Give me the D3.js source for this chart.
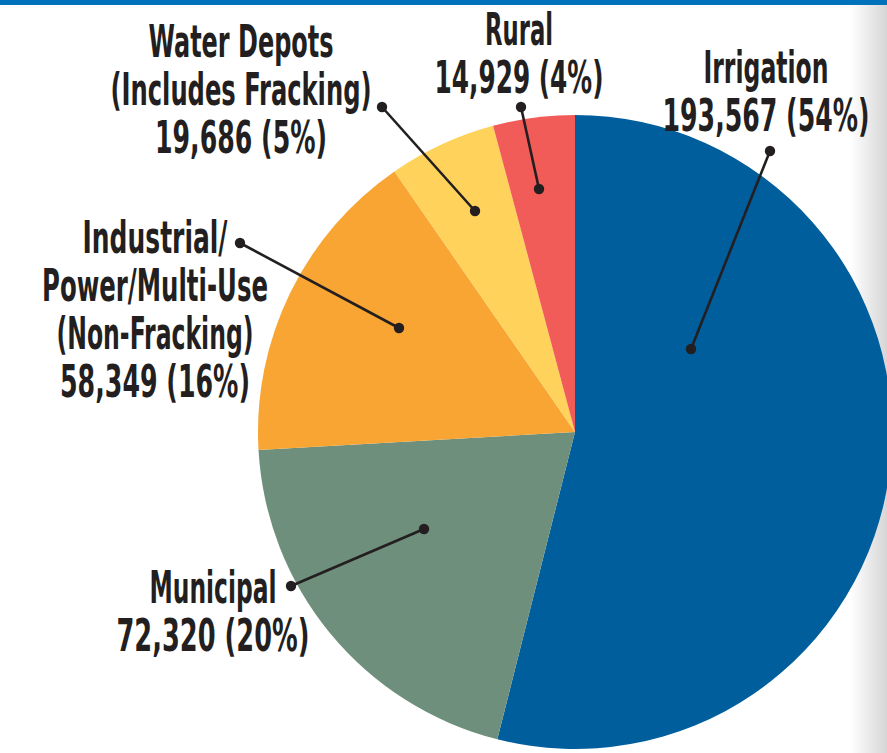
<!DOCTYPE html>
<html>
<head>
<meta charset="utf-8">
<script src="https://cdn.jsdelivr.net/npm/d3@7"></script>
<style>
  html, body { margin: 0; padding: 0; background: #fff; }
  svg { display: block; }
</style>
</head>
<body>
<svg id="chart" width="887" height="753"></svg>
<script>
// ---- data ----
const categories = ["Irrigation", "Municipal", "Industrial/\nPower/Multi-Use\n(Non-Fracking)", "Water Depots\n(Includes Fracking)", "Rural"];
const values = [193567, 72320, 58349, 19686, 14929];
const colors = ["#015e9d", "#6e8f7b", "#f8a533", "#fed25b", "#f15b58"];

// ---- layout (label placement, pixels) ----
const labelCenterX = [766, 213, 155, 241, 519];
const labelFirstBaseline = [83, 603, 253, 57, 45];
const labelLineWidths = [[125, 207], [127, 193], [145, 226, 197, 190], [185, 261, 172], [68, 169]];
const leaderOuter = [[770, 151], [291, 586], [240, 243], [382, 107], [521, 107]];
const leaderInner = [[691, 349], [424, 529], [399, 328], [475, 211], [539, 189]];

const W = 887, H = 753;
const cx = 575, cy = 432, R = 317;
const lineStep = 48;

const svg = d3.select("#chart");

// right side page shadow
const defs = svg.append("defs");
const grad = defs.append("linearGradient").attr("id", "shade").attr("x1", 0).attr("x2", 1).attr("y1", 0).attr("y2", 0);
grad.append("stop").attr("offset", 0).attr("stop-color", "#ffffff");
grad.append("stop").attr("offset", 1).attr("stop-color", "#d6d6d6");
svg.append("rect").attr("x", 850).attr("y", 5).attr("width", W - 850).attr("height", H - 5).attr("fill", "url(#shade)");

// top rule
svg.append("rect").attr("x", 0).attr("y", 0).attr("width", W).attr("height", 5).attr("fill", "#0072bb");

const total = d3.sum(values);
const pie = d3.pie().sort(null).value(d => d)(values);
const arc = d3.arc().innerRadius(0).outerRadius(R);

const g = svg.append("g").attr("transform", `translate(${cx},${cy})`);
g.selectAll("path").data(pie).join("path")
  .attr("d", arc)
  .attr("fill", (d, i) => colors[i]);

// leader lines
const leaders = svg.append("g");
values.forEach((v, i) => {
  const [x1, y1] = leaderOuter[i], [x2, y2] = leaderInner[i];
  leaders.append("line").attr("x1", x1).attr("y1", y1).attr("x2", x2).attr("y2", y2)
    .attr("stroke", "#231f20").attr("stroke-width", 2.6);
  leaders.append("circle").attr("cx", x1).attr("cy", y1).attr("r", 5.2).attr("fill", "#231f20");
  leaders.append("circle").attr("cx", x2).attr("cy", y2).attr("r", 5.2).attr("fill", "#231f20");
});

// labels
const fmt = d3.format(",");
const labels = svg.append("g")
  .attr("font-family", "'Liberation Sans Narrow', 'Arial Narrow', 'DejaVu Sans Condensed', sans-serif")
  .attr("font-weight", "bold")
  .attr("font-size", 44)
  .attr("fill", "#231f20")
  .attr("text-anchor", "middle");

categories.forEach((c, i) => {
  const lines = c.split("\n");
  lines.push(`${fmt(values[i])} (${Math.round(values[i] / total * 100)}%)`);
  lines.forEach((ln, j) => {
    labels.append("text")
      .attr("x", labelCenterX[i])
      .attr("y", labelFirstBaseline[i] + j * lineStep)
      .attr("textLength", labelLineWidths[i][j])
      .attr("lengthAdjust", "spacingAndGlyphs")
      .text(ln);
  });
});
</script>
</body>
</html>
